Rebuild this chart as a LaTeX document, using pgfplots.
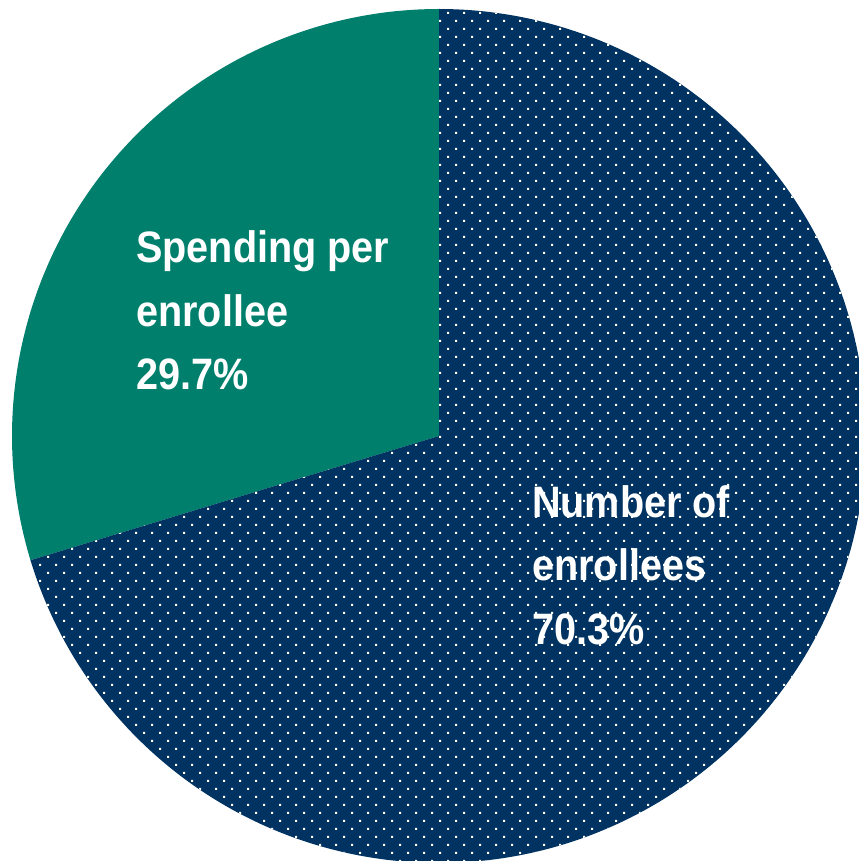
\documentclass[border=0pt]{standalone}
\usepackage{pgfplots}
\pgfplotsset{compat=1.18}
\usepackage{pgfplotstable}
\usepackage{fontspec}
\setmainfont{Liberation Sans}
\newfontfamily\labfont[FakeStretch=0.9]{Liberation Sans}
\usetikzlibrary{patterns}
\definecolor{pgreen}{RGB}{0,127,108}
\definecolor{pnavy}{RGB}{0,51,97}
\pgfdeclarepatternformonly{diagdots}{\pgfqpoint{-1bp}{-1bp}}{\pgfqpoint{15bp}{15bp}}{\pgfqpoint{16bp}{16bp}}{%
  \pgfpathrectangle{\pgfqpoint{-1bp}{-1bp}}{\pgfqpoint{2bp}{2bp}}%
  \pgfpathrectangle{\pgfqpoint{7bp}{7bp}}{\pgfqpoint{2bp}{2bp}}%
  \pgfusepath{fill}}
\pgfplotstableread{
label value
Spending 29.7
Number 70.3
}\piedata
\begin{document}%
\begin{tikzpicture}
\pgfplotstablegetelem{0}{value}\of\piedata\let\vA\pgfplotsretval
\pgfplotstablegetelem{1}{value}\of\piedata\let\vB\pgfplotsretval
\pgfmathsetmacro{\aS}{90}
\pgfmathsetmacro{\aM}{90+3.6*\vA}
\pgfmathsetmacro{\aE}{\aM+3.6*\vB}
\useasboundingbox (0,0) rectangle (859bp,861bp);
\begin{axis}[at={(0,0)}, anchor=south west, scale only axis,
  width=859bp, height=861bp, xmin=0, xmax=859, ymin=0, ymax=861,
  hide axis, clip=true]
\addplot[draw=none, fill=pgreen, domain=\aS:\aM, samples=200, variable=\t]
  ({439+427*cos(t)},{425+427*sin(t)}) -- (axis cs:439,425) -- cycle;
\addplot[draw=none, fill=pnavy, postaction={pattern=diagdots, pattern color=white},
  domain=\aM:\aE, samples=300, variable=\t]
  ({439+427*cos(t)},{425+427*sin(t)}) -- (axis cs:439,425) -- cycle;
\begin{scope}[every node/.style={anchor=base west, inner sep=0pt, text=white,
  font=\labfont\bfseries\fontsize{44bp}{50bp}\selectfont}]
\node at (axis cs:136,598) {Spending per};
\node at (axis cs:136,534.5) {enrollee};
\node at (axis cs:136,471) {29.7\%};
\node at (axis cs:532,343) {Number of};
\node at (axis cs:532,280) {enrollees};
\node at (axis cs:532,216) {70.3\%};
\end{scope}
\end{axis}
\end{tikzpicture}%
\end{document}
